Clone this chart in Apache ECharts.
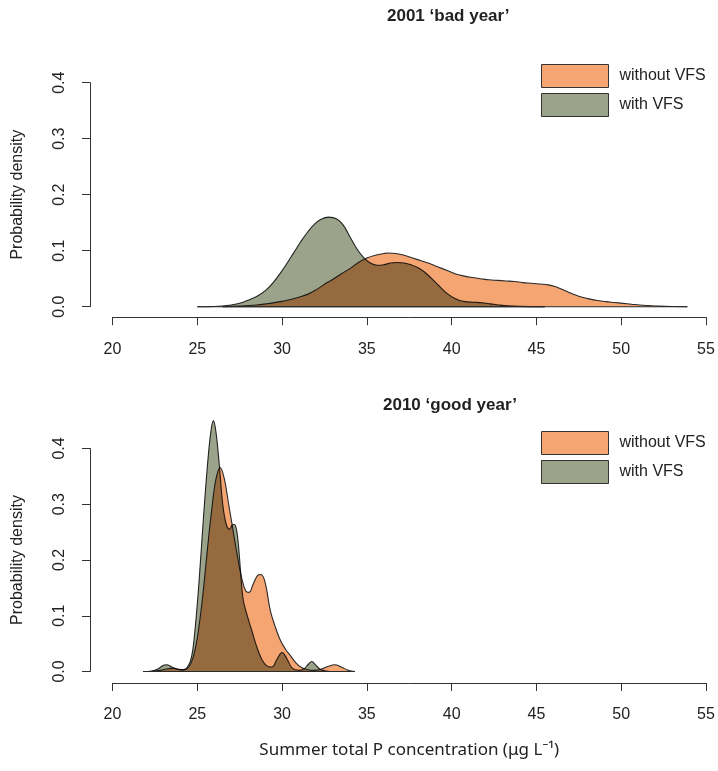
<!DOCTYPE html>
<html>
<head>
<meta charset="utf-8">
<script src="https://cdn.jsdelivr.net/npm/echarts@6/dist/echarts.min.js"></script>
<style>html,body{margin:0;padding:0;background:#fff;}#c{width:718px;height:771px;}</style>
</head>
<body>
<div id="c"></div>
<script>
// ---- DATA ----
const seriesNames = ['without VFS', 'with VFS'];
const panelTitles = ['2001 \u2018bad year\u2019', '2010 \u2018good year\u2019'];
const xTicks = [20, 25, 30, 35, 40, 45, 50, 55];
const yTicks = [0, 0.1, 0.2, 0.3, 0.4];

// 2001 'bad year' — without VFS
const bad_without_x = [26.5,27.5,28.5,29.3,29.9,30.5,31.0,31.5,32.0,32.5,33.0,33.5,34.0,34.5,35.0,35.5,36.0,36.3,36.7,37.2,37.7,38.2,38.7,39.2,39.7,40.2,40.7,41.2,41.7,42.2,42.7,43.2,43.7,44.2,44.7,45.2,45.7,46.1,46.5,46.9,47.3,47.7,48.1,48.6,49.1,49.6,50.1,50.6,51.1,51.6,52.2,53.0,53.9];
const bad_without_y = [0,0.001,0.003,0.006,0.009,0.013,0.017,0.022,0.030,0.040,0.049,0.059,0.068,0.079,0.087,0.092,0.095,0.096,0.095,0.092,0.087,0.082,0.077,0.071,0.065,0.059,0.055,0.052,0.050,0.048,0.047,0.046,0.045,0.043,0.042,0.0405,0.039,0.036,0.031,0.026,0.021,0.017,0.014,0.011,0.009,0.0075,0.006,0.0045,0.003,0.002,0.001,0.0003,0];
// 2001 'bad year' — with VFS
const bad_with_x = [25.0,26.0,27.0,27.6,28.1,28.6,29.1,29.5,29.9,30.3,30.7,31.1,31.5,31.9,32.3,32.75,33.2,33.6,34.0,34.4,34.8,35.2,35.6,36.0,36.4,36.8,37.2,37.6,38.0,38.4,38.8,39.2,39.6,40.0,40.4,40.8,41.3,41.8,42.3,42.8,43.3,44.0,45.5];
const bad_with_y = [0,0.0003,0.003,0.007,0.013,0.020,0.031,0.044,0.060,0.078,0.097,0.116,0.133,0.147,0.156,0.160,0.157,0.146,0.125,0.104,0.088,0.078,0.074,0.075,0.078,0.079,0.078,0.075,0.070,0.062,0.051,0.039,0.027,0.018,0.012,0.009,0.008,0.007,0.005,0.003,0.0015,0.0005,0];

// 2010 'good year' — without VFS
const good_without_x = [22.3,22.8,23.3,23.6,23.9,24.2,24.5,24.75,25.0,25.3,25.6,25.85,26.1,26.35,26.6,26.85,27.1,27.35,27.6,27.85,28.05,28.3,28.55,28.75,29.0,29.3,29.6,29.9,30.2,30.5,30.8,31.1,31.5,31.9,32.3,32.7,33.1,33.5,33.9,34.3];
const good_without_y = [0,0.002,0.005,0.006,0.004,0.003,0.008,0.025,0.060,0.130,0.220,0.290,0.345,0.366,0.345,0.300,0.255,0.210,0.170,0.145,0.142,0.157,0.172,0.174,0.160,0.110,0.080,0.056,0.040,0.028,0.016,0.008,0.003,0.002,0.004,0.009,0.012,0.008,0.002,0];
// 2010 'good year' — with VFS
const good_with_x = [21.8,22.3,22.7,23.0,23.2,23.5,23.8,24.1,24.4,24.65,24.85,25.1,25.35,25.6,25.8,25.95,26.1,26.3,26.5,26.7,26.9,27.1,27.25,27.4,27.55,27.7,27.9,28.2,28.5,28.8,29.1,29.4,29.7,30.0,30.3,30.6,31.0,31.3,31.55,31.75,32.0,32.3,32.8];
const good_with_y = [0,0.001,0.005,0.011,0.012,0.008,0.004,0.003,0.007,0.025,0.070,0.160,0.270,0.370,0.430,0.450,0.430,0.370,0.300,0.265,0.255,0.264,0.262,0.235,0.180,0.130,0.105,0.075,0.045,0.022,0.010,0.008,0.022,0.034,0.022,0.006,0.002,0.005,0.013,0.018,0.011,0.003,0];

// ---- STYLE ----
const ORANGE = '#f4a572';
const GREEN = '#9ca38b';
const LINE = '#2a2a2a';
const FONT = '"Liberation Sans", Arial, Helvetica, sans-serif';

function pts(xs, ys) { return xs.map((x, i) => [x, ys[i]]); }

const panels = [
  { top: 82.7, height: 224, axisOff: 10.5, withoutX: bad_without_x, withoutY: bad_without_y, withX: bad_with_x, withY: bad_with_y },
  { top: 448.5, height: 223, axisOff: 11.5, withoutX: good_without_x, withoutY: good_without_y, withX: good_with_x, withY: good_with_y }
];

const grid = [], xAxis = [], yAxis = [], series = [];
panels.forEach((p, i) => {
  grid.push({ left: 112.5, right: 12, top: p.top, height: p.height, containLabel: false });
  xAxis.push({
    type: 'value', gridIndex: i, min: xTicks[0], max: xTicks[xTicks.length - 1], interval: 5,
    offset: p.axisOff,
    axisLine: { show: true, onZero: false, lineStyle: { color: '#333', width: 1 } },
    axisTick: { show: true, length: 8, lineStyle: { color: '#333', width: 1 } },
    splitLine: { show: false },
    axisLabel: { fontFamily: FONT, fontSize: 16, color: '#222', margin: 24 },
    name: i === 1 ? 'Summer total P concentration (\u03bcg L\u207b\u00b9)' : '',
    nameLocation: 'middle', nameGap: 59,
    nameTextStyle: { fontFamily: '"Noto Sans", "Open Sans", sans-serif', fontSize: 17, color: '#222' }
  });
  yAxis.push({
    type: 'value', gridIndex: i, min: yTicks[0], max: yTicks[yTicks.length - 1], interval: 0.1,
    offset: 22.5,
    axisLine: { show: true, onZero: false, lineStyle: { color: '#333', width: 1 } },
    axisTick: { show: true, length: 8, lineStyle: { color: '#333', width: 1 } },
    splitLine: { show: false },
    axisLabel: { fontFamily: FONT, fontSize: 16, color: '#222', rotate: 90, margin: 22,
      formatter: v => v.toFixed(1) },
    name: 'Probability density', nameLocation: 'middle', nameRotate: 90, nameGap: 64,
    nameTextStyle: { fontFamily: FONT, fontSize: 16, color: '#222' }
  });
  const common = { type: 'line', xAxisIndex: i, yAxisIndex: i, showSymbol: false, symbol: 'none',
    smooth: 0.4, silent: true, animation: false, clip: false };
  series.push(Object.assign({}, common, {
    name: seriesNames[0], data: pts(p.withoutX, p.withoutY), color: ORANGE,
    lineStyle: { color: LINE, width: 1.1 }, itemStyle: { color: ORANGE },
    areaStyle: { color: ORANGE, opacity: 1 }, z: 2
  }));
  series.push(Object.assign({}, common, {
    name: seriesNames[1], data: pts(p.withX, p.withY), color: GREEN,
    lineStyle: { color: LINE, width: 1.1 }, itemStyle: { color: GREEN },
    areaStyle: { color: GREEN, opacity: 1 }, blendMode: 'multiply', z: 3
  }));
  // polygon bottom edges (from first to last x of each density)
  [[p.withoutX], [p.withX]].forEach(([xs]) => {
    series.push(Object.assign({}, common, {
      name: 'base', smooth: false, data: [[xs[0], 0], [xs[xs.length - 1], 0]],
      lineStyle: { color: LINE, width: 1.1 }, z: 4
    }));
  });
});

const legends = panels.map((p, i) => ({
  orient: 'vertical', left: 536, top: i === 0 ? 59 : 426, itemWidth: 67, itemHeight: 23, itemGap: 5,
  icon: 'rect', selectedMode: false,
  textStyle: { fontFamily: FONT, fontSize: 16, color: '#222', padding: [0, 0, 0, 6] },
  data: [
    { name: seriesNames[0], itemStyle: { color: ORANGE, borderColor: '#333', borderWidth: 1 } },
    { name: seriesNames[1], itemStyle: { color: GREEN, borderColor: '#333', borderWidth: 1 } }
  ]
}));

const chart = echarts.init(document.getElementById('c'), null, { renderer: 'canvas' });
chart.setOption({
  backgroundColor: '#fff',
  animation: false,
  grid, xAxis, yAxis, series,
  legend: legends,
  graphic: [
    { type: 'text', left: 387, top: 8, style: { text: panelTitles[0], font: 'bold 17px ' + FONT, fill: '#222' } },
    { type: 'text', left: 383, top: 397, style: { text: panelTitles[1], font: 'bold 17px ' + FONT, fill: '#222' } }
  ]
});
</script>
</body>
</html>
